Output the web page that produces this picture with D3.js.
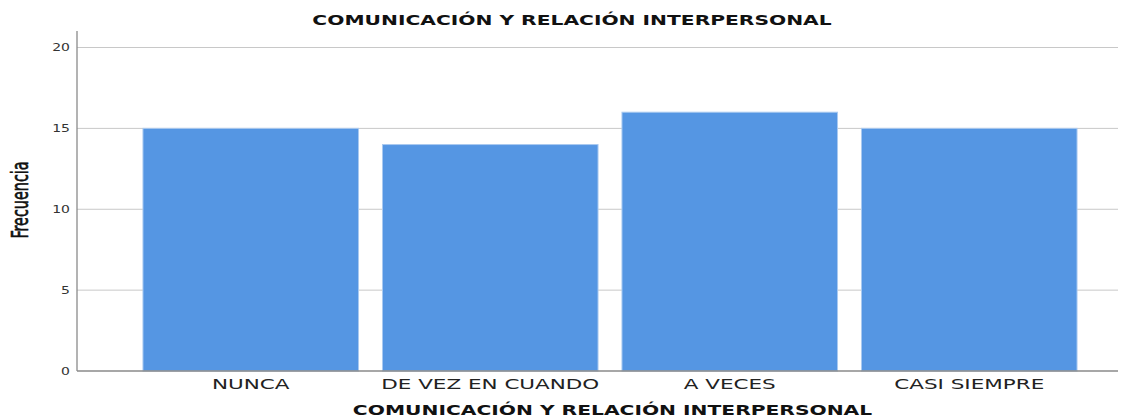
<!DOCTYPE html>
<html><head><meta charset="utf-8">
<script src="https://cdn.jsdelivr.net/npm/d3@7"></script>
<style>body{margin:0;background:#fff}svg{display:block}</style>
</head><body>
<svg id="c" width="1132" height="417"></svg>
<script>
const categories = ["NUNCA", "DE VEZ EN CUANDO", "A VECES", "CASI SIEMPRE"];
const values = [15, 14, 16, 15];
const yTicks = [0, 5, 10, 15, 20];
const title = "COMUNICACIÓN Y RELACIÓN INTERPERSONAL";
const xTitle = "COMUNICACIÓN Y RELACIÓN INTERPERSONAL";
const yTitle = "Frecuencia";

const svg = d3.select("#c");
const plotL = 77, plotR = 1118, plotT = 31, y0px = 371, y20px = 47.5;

const x = d3.scaleBand().domain(categories).range([131, 1089]).paddingInner(0.1).paddingOuter(0.05);
const y = d3.scaleLinear().domain([0, 20]).range([y0px, y20px]);

function stretched(sel, cx, cy, txt, sx) {
  return sel.append("text")
    .attr("transform", `translate(${cx},${cy}) scale(${sx},1)`)
    .attr("text-anchor", "middle").text(txt);
}

// grid
svg.append("g").selectAll("line").data(yTicks.filter(d => d > 0)).join("line")
  .attr("x1", plotL).attr("x2", plotR)
  .attr("y1", d => y(d)).attr("y2", d => y(d))
  .attr("stroke", "#c8c8c8").attr("stroke-width", 1);

// bars
svg.append("g").selectAll("rect").data(values).join("rect")
  .attr("x", (d, i) => x(categories[i]))
  .attr("width", x.bandwidth())
  .attr("y", d => y(d))
  .attr("height", d => y(0) - y(d))
  .attr("fill", "#5596e3")
  .attr("stroke", "#a9c9f0").attr("stroke-width", 1);

// axes lines
svg.append("line").attr("x1", plotL).attr("x2", plotL).attr("y1", plotT).attr("y2", y0px)
  .attr("stroke", "#8a8a8a").attr("stroke-width", 1.3);
svg.append("line").attr("x1", plotL).attr("x2", plotR).attr("y1", y0px).attr("y2", y0px)
  .attr("stroke", "#8a8a8a").attr("stroke-width", 1.3);

// y tick labels
const yg = svg.append("g");
yTicks.forEach(t => {
  yg.append("text")
    .attr("transform", `translate(70,${y(t) + 3.5}) scale(1.4,1)`)
    .attr("text-anchor", "end")
    .attr("font-family", "DejaVu Sans").attr("font-size", 10).attr("fill", "#333")
    .text(t);
});

// x tick labels
const xg = svg.append("g");
categories.forEach(c => {
  stretched(xg, x(c) + x.bandwidth() / 2, 389, c, 1.58)
    .attr("font-family", "DejaVu Sans").attr("font-size", 13.6).attr("fill", "#222");
});

// title
stretched(svg, 572, 25, title, 1.5)
  .attr("font-family", "DejaVu Sans").attr("font-weight", "bold").attr("font-size", 13.5).attr("fill", "#111");
// x title
stretched(svg, 612.5, 415, xTitle, 1.5)
  .attr("font-family", "DejaVu Sans").attr("font-weight", "bold").attr("font-size", 13.5).attr("fill", "#111");
// y title
svg.append("text")
  .attr("transform", `translate(28,200) scale(1.4,1) rotate(-90)`)
  .attr("text-anchor", "middle")
  .attr("font-family", "DejaVu Sans Condensed").attr("font-size", 16)
  .attr("fill", "#111").attr("stroke", "#111").attr("stroke-width", 0.45)
  .text(yTitle);
</script>
</body></html>
